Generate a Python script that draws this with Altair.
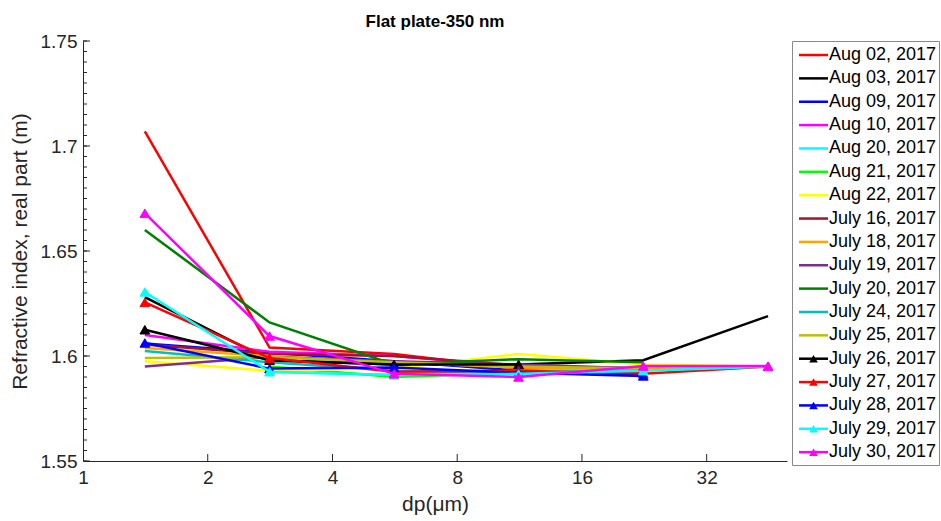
import altair as alt
import pandas as pd

# Particle diameter (µm) of each size bin
dp = [1.41, 2.82, 5.63, 11.25, 22.5, 45.0]

series_names = [
    "Aug 02, 2017", "Aug 03, 2017", "Aug 09, 2017", "Aug 10, 2017",
    "Aug 20, 2017", "Aug 21, 2017", "Aug 22, 2017", "July 16, 2017",
    "July 18, 2017", "July 19, 2017", "July 20, 2017", "July 24, 2017",
    "July 25, 2017", "July 26, 2017", "July 27, 2017", "July 28, 2017",
    "July 29, 2017", "July 30, 2017",
]
series_colors = [
    "#FF0000", "#000000", "#0000FF", "#FF00FF", "#00FFFF", "#00FF00",
    "#FFFF00", "#A2142F", "#FFA500", "#7E2F8E", "#008000", "#00BFBF",
    "#BFBF00", "#000000", "#FF0000", "#0000FF", "#00FFFF", "#FF00FF",
]
with_marker = [False] * 13 + [True] * 5

# Real part of the refractive index per day (None = no retrieval)
aug02 = [1.707, 1.604, 1.601, 1.594, 1.592, None]
aug03 = [1.628, 1.598, 1.596, 1.596, 1.598, 1.619]
aug09 = [1.606, 1.6015, 1.5975, 1.593, 1.591, None]
aug10 = [1.610, 1.602, 1.600, 1.595, None, None]
aug20 = [None, 1.5925, 1.591, 1.593, 1.594, None]
aug21 = [None, 1.595, 1.590, 1.592, 1.593, None]
aug22 = [1.5975, 1.593, 1.594, 1.601, 1.596, 1.595]
jul16 = [1.6055, 1.601, 1.600, 1.5955, 1.594, None]
jul18 = [1.6038, 1.600, 1.597, 1.5945, 1.594, 1.595]
jul19 = [1.595, 1.5995, 1.5975, 1.596, 1.594, None]
jul20 = [1.660, 1.616, 1.596, 1.5985, 1.597, None]
jul24 = [1.6024, 1.597, 1.593, 1.592, 1.593, None]
jul25 = [1.599, 1.5995, 1.597, 1.595, 1.594, None]
jul26 = [1.6125, 1.598, 1.596, 1.596, None, None]
jul27 = [1.6255, 1.599, 1.5925, 1.593, 1.5915, 1.595]
jul28 = [1.6062, 1.594, 1.5945, 1.592, 1.5905, None]
jul29 = [1.6305, 1.5925, 1.591, 1.5915, 1.593, 1.595]
jul30 = [1.668, 1.6095, 1.5915, 1.590, 1.5952, 1.5952]

all_values = [aug02, aug03, aug09, aug10, aug20, aug21, aug22, jul16, jul18,
              jul19, jul20, jul24, jul25, jul26, jul27, jul28, jul29, jul30]

y_ticks = [1.55, 1.6, 1.65, 1.7, 1.75]
x_ticks = [1, 2, 4, 8, 16, 32]

FONT = "Liberation Sans"
INK = "#262626"
W, H = 704, 420

x_enc = alt.X(
    "dp:Q",
    scale=alt.Scale(type="log", base=2, domain=[1, 50], nice=False),
    axis=alt.Axis(values=x_ticks, format="d", title="dp(μm)", ticks=False,
                  labelFlush=False, labelPadding=7, titlePadding=6,
                  labelFontSize=19, titleFontSize=21),
)
y_enc = alt.Y(
    "m:Q",
    scale=alt.Scale(domain=[1.55, 1.75], nice=False, zero=False),
    axis=alt.Axis(values=y_ticks, format="~g", ticks=False,
                  title="Refractive index, real part (m)", labelFlush=False,
                  labelPadding=6, titlePadding=10, labelFontSize=19,
                  titleFontSize=21),
)

layers = []

# inward tick marks on both axes
minor_y = pd.DataFrame({"m": [round(1.55 + 0.005 * i, 3) for i in range(41)]})
major_y = pd.DataFrame({"m": y_ticks})
layers.append(alt.Chart(minor_y).mark_rule(color=INK, strokeWidth=1).encode(
    y=y_enc, x=alt.value(0), x2=alt.value(4)))
layers.append(alt.Chart(major_y).mark_rule(color=INK, strokeWidth=1).encode(
    y=y_enc, x=alt.value(0), x2=alt.value(7)))
layers.append(alt.Chart(pd.DataFrame({"dp": x_ticks[1:]})).mark_rule(
    color=INK, strokeWidth=1).encode(x=x_enc, y=alt.value(H), y2=alt.value(H - 7)))

# one line (plus triangles where used) per day, drawn in legend order
for name, col, mk, vals in zip(series_names, series_colors, with_marker, all_values):
    pts = [(d, v) for d, v in zip(dp, vals) if v is not None]
    df = pd.DataFrame({"dp": [p[0] for p in pts], "m": [p[1] for p in pts]})
    layers.append(alt.Chart(df).mark_line(color=col, strokeWidth=2.5).encode(
        x=x_enc, y=y_enc))
    if mk:
        layers.append(alt.Chart(df).mark_point(
            shape="triangle-up", filled=True, color=col, size=95, opacity=1,
            stroke=col, strokeWidth=1).encode(x=x_enc, y=y_enc))

main = alt.layer(*layers).properties(
    width=W, height=H,
    title=alt.TitleParams("Flat plate-350 nm", fontSize=17, fontWeight="bold",
                          font=FONT, color="black", anchor="middle", offset=1),
    view=alt.ViewBackground(stroke="transparent"),
)

# legend panel
leg = pd.DataFrame({"name": series_names, "idx": list(range(len(series_names))),
                    "col": series_colors, "mk": with_marker})
LW, LH = 147, 424
lx = alt.Scale(domain=[0, LW], nice=False)
ly = alt.Scale(domain=[-0.6, 17.55], reverse=True, nice=False, zero=False)
base = alt.Chart(leg).transform_calculate(x0="7", x1="36", xt="37", xm="21.5")
leg_line = base.mark_rule(strokeWidth=2.5).encode(
    x=alt.X("x0:Q", scale=lx, axis=None), x2="x1:Q",
    y=alt.Y("idx:Q", scale=ly, axis=None),
    color=alt.Color("col:N", scale=None))
leg_mark = base.transform_filter("datum.mk").mark_point(
    shape="triangle-up", filled=True, size=75, opacity=1).encode(
    x=alt.X("xm:Q", scale=lx, axis=None),
    y=alt.Y("idx:Q", scale=ly, axis=None),
    color=alt.Color("col:N", scale=None))
leg_text = base.mark_text(align="left", baseline="middle", fontSize=18,
                          font=FONT, color="black").encode(
    x=alt.X("xt:Q", scale=lx, axis=None),
    y=alt.Y("idx:Q", scale=ly, axis=None),
    text="name:N")
legend = alt.layer(leg_line, leg_mark, leg_text).properties(
    width=LW, height=LH,
    view=alt.ViewBackground(stroke="#8a8a8a", strokeWidth=1),
)

chart = alt.hconcat(main, legend, spacing=5, bounds="flush").properties(
    padding={"left": 8, "top": 12, "right": 1, "bottom": 5},
    background="white",
).configure_axis(
    labelFont=FONT, titleFont=FONT, labelColor=INK, titleColor=INK,
    domainColor=INK, domainWidth=1, grid=False, titleFontWeight="normal",
)

chart.save("out.html", embed_options={"renderer": "svg", "actions": False})
